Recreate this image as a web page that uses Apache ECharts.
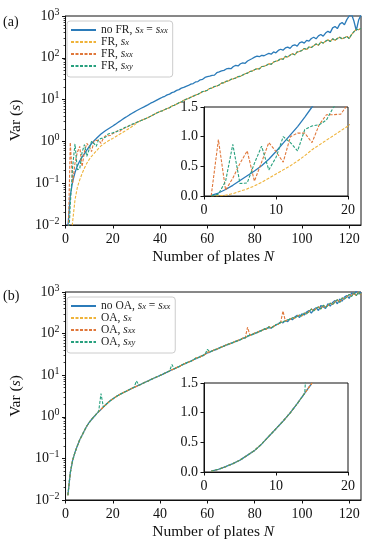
<!DOCTYPE html>
<html>
<head>
<meta charset="utf-8">
<script src="https://cdn.jsdelivr.net/npm/echarts@6/dist/echarts.min.js"></script>
<style>
  html, body { margin: 0; padding: 0; background: #fff; }
  #chart { width: 366px; height: 542px; }
</style>
</head>
<body>
<div id="chart"></div>
<script>
// values, index i is N = i + 1
const noFR = [0.009, 0.05, 0.11, 0.18, 0.26, 0.34, 0.42, 0.51, 0.62, 0.75,
  0.89, 1.03, 1.17, 1.33, 1.5, 1.66, 1.82, 1.98, 2.15, 2.33,
  2.55, 2.8, 3.05, 3.35, 3.65, 3.95, 4.3, 4.65, 5.0, 5.4,
  5.8, 6.2, 6.6, 7.1, 7.6, 8.2, 8.7, 9.3, 10.0, 10.7,
  11.4, 12.0, 13.0, 13.5, 14.7, 15.3, 16.6, 17.3, 18.8, 19.6,
  20.8, 21.8, 23.5, 24.2, 26.5, 27.0, 29.8, 30.5, 34.0, 35.5,
  36.5, 38.0, 38.5, 44.0, 46.0, 48.5, 50.0, 54.0, 56.0, 55.0,
  62, 66, 64, 72, 76, 74, 84, 90, 96, 104,
  110, 106, 115, 112, 120, 128, 122, 138, 132, 150,
  160, 152, 172, 180, 168, 195, 205, 190, 228, 240,
  225, 262, 250, 290, 310, 285, 335, 360, 330, 390,
  430, 400, 520, 560, 500, 640, 700, 620, 820, 1000,
  1100, 760, 450, 800, 1050];

const frSxHead = [0.0005, 0.003, 0.012, 0.04, 0.08, 0.12, 0.17, 0.23, 0.3, 0.37,
  0.44, 0.51, 0.59, 0.68, 0.78, 0.86, 0.94, 1.02, 1.1, 1.18,
  1.28, 1.39, 1.5, 1.62, 1.75, 1.9, 2.05, 2.25, 2.45, 2.7];
const frSxxHead = [0.002, 0.95, 0.1, 0.3, 0.55, 0.76, 0.25, 0.57, 0.9, 0.75,
  0.57, 1.0, 1.06, 1.06, 0.9, 1.2, 1.37, 1.37, 1.38, 1.55,
  1.62, 1.8, 1.75, 1.98, 2.1, 2.2, 2.4, 2.5, 2.65, 2.85];
const frSxyHead = [0.002, 0.03, 0.25, 0.87, 0.21, 0.22, 0.55, 0.84, 0.44, 0.65,
  1.0, 0.9, 0.76, 1.12, 1.18, 1.2, 1.28, 1.5, 1.55, 1.6,
  1.68, 1.75, 1.92, 1.95, 2.15, 2.22, 2.38, 2.55, 2.68, 2.85];
// N = 31..125, the three FR curves lie on top of each other here
const frTail = [3.0, 3.15, 3.35, 3.55, 3.75, 4.0, 4.3, 4.6, 4.9, 5.2,
  5.4, 5.8, 6.1, 6.4, 7.0, 7.3, 7.8, 8.4, 8.8, 9.6,
  10.2, 10.6, 11.4, 12.1, 12.8, 13.5, 14.3, 15.6, 15.9, 16.8,
  18.5, 18.9, 20.5, 21.2, 22.5, 24.8, 25.3, 27.5, 28.0, 30.5,
  31.5, 33.0, 35.5, 36.0, 39.0, 41.5, 43.0, 47.0, 48.5, 52.0,
  55, 54, 62, 63, 66, 72, 70, 79, 83, 86,
  95, 92, 108, 104, 116, 125, 118, 138, 142, 150,
  168, 158, 182, 176, 195, 215, 200, 238, 225, 248,
  270, 245, 285, 262, 290, 310, 285, 300, 325, 290,
  360, 420, 480, 470, 505];

const noOA = [0.013, 0.045, 0.09, 0.14, 0.2, 0.28, 0.36, 0.47, 0.6, 0.73,
  0.86, 1.0, 1.16, 1.33, 1.5, 1.72, 1.95, 2.2, 2.45, 2.7,
  2.95, 3.2, 3.45, 3.7, 3.95, 4.2, 4.5, 4.8, 5.1, 5.4,
  5.75, 6.1, 6.5, 6.9, 7.3, 7.8, 8.3, 8.8, 9.3, 9.9,
  10.5, 11.2, 11.9, 12.6, 13.5, 14.2, 15.2, 16.0, 17.3, 18.5,
  19.2, 21.0, 21.5, 23.5, 24.8, 26.0, 28.5, 29.0, 32.0, 34.5,
  35.5, 38.5, 40.0, 42.0, 45.5, 47.0, 50.5, 53.0, 55.0, 59.0,
  61, 66, 68, 72, 77, 80, 86, 90, 96, 100,
  107, 112, 120, 126, 133, 140, 135, 150, 160, 172,
  190, 182, 205, 195, 230, 215, 250, 275, 245, 300,
  280, 330, 360, 310, 380, 420, 360, 470, 440, 400,
  520, 460, 560, 620, 520, 680, 600, 760, 820, 700,
  950, 880, 1050, 900, 980];
// N = 51..125 of the OA curves (below that they follow noOA)
const oaTail = [19.8, 20.5, 22.0, 23.0, 25.5, 26.5, 27.5, 30.0, 31.5, 35.5,
  36.5, 38.0, 41.0, 42.5, 44.5, 48.0, 49.5, 54.0, 56.0, 58.0,
  62, 64, 69, 71, 78, 79, 88, 92, 94, 103,
  105, 115, 118, 130, 128, 145, 138, 148, 165, 168,
  185, 195, 200, 215, 220, 240, 235, 260, 280, 265,
  310, 300, 340, 390, 350, 400, 440, 390, 480, 430,
  470, 540, 500, 580, 650, 560, 720, 680, 760, 880,
  780, 960, 820, 1000, 850];
// [N, value] where one OA curve jumps off the others
const oaSxxSpikes = [[77, 142], [92, 350]];
const oaSxySpikes = [[15, 3.6], [30, 7.3], [45, 18], [60, 42]];

const xTicks = [0, 20, 40, 60, 80, 100, 120];
const insetXTicks = [0, 10, 20];

const frSx = frSxHead.concat(frTail);
const frSxx = frSxxHead.concat(frTail);
const frSxy = frSxyHead.concat(frTail);
const oaSx = noOA.slice(0, 50).concat(oaTail);
function withSpikes(base, spikes) {
  const out = base.slice();
  spikes.forEach(([n, v]) => { out[n - 1] = v; });
  return out;
}
const oaSxx = withSpikes(oaSx, oaSxxSpikes);
const oaSxy = withSpikes(oaSx, oaSxySpikes);

const FONT = '"Liberation Serif", "DejaVu Serif", serif';
const INK = '#111';
const BLUE = '#2b7bb9';
const YELLOW = '#efb33a';
const ORANGE = '#e0773a';
const GREEN = '#27a07e';

const minorLog = [];
for (let e = -2; e < 3; e++) {
  for (let k = 2; k < 10; k++) minorLog.push(e + Math.log10(k));
}

const labels = {
  noFR: 'no FR, {i|s}{sub|x} = {i|s}{sub|xx}',
  frSx: 'FR, {i|s}{sub|x}',
  frSxx: 'FR, {i|s}{sub|xx}',
  frSxy: 'FR, {i|s}{sub|xy}',
  noOA: 'no OA, {i|s}{sub|x} = {i|s}{sub|xx}',
  oaSx: 'OA, {i|s}{sub|x}',
  oaSxx: 'OA, {i|s}{sub|xx}',
  oaSxy: 'OA, {i|s}{sub|xy}',
};

function line(name, vals, color, dashed, axis, count) {
  return {
    name: name,
    type: 'line',
    xAxisIndex: axis,
    yAxisIndex: axis,
    data: vals.slice(0, count).map((v, i) => [i + 1, v]),
    symbol: 'none',
    color: color,
    lineStyle: { color: color, width: dashed ? 1.1 : 1.3, type: dashed ? [3, 1.5] : 'solid' },
    clip: true,
    animation: false,
  };
}

const tickStyle = { color: INK, width: 1 };
const labelStyle = { color: INK, fontFamily: FONT, fontSize: 14 };

function mainX(grid) {
  return {
    type: 'value', gridIndex: grid, min: 0, max: 125,
    name: 'Number of plates {i|N}', nameLocation: 'middle', nameGap: 24,
    nameTextStyle: { color: INK, fontFamily: FONT, fontSize: 15.5,
      rich: { i: { fontStyle: 'italic', fontFamily: FONT, fontSize: 15.5, color: INK } } },
    axisLine: { show: true, onZero: false, lineStyle: tickStyle },
    axisTick: { show: true, length: 3.5, lineStyle: tickStyle, customValues: xTicks },
    axisLabel: Object.assign({ margin: 7, customValues: xTicks }, labelStyle),
    splitLine: { show: false },
  };
}
function insetX(grid) {
  return {
    type: 'value', gridIndex: grid, min: 0, max: 20, interval: 10,
    axisLine: { show: true, onZero: false, lineStyle: tickStyle },
    axisTick: { show: true, length: 3.5, lineStyle: tickStyle, customValues: insetXTicks },
    axisLabel: Object.assign({ margin: 7, customValues: insetXTicks }, labelStyle),
    splitLine: { show: false },
  };
}
function mainY(grid) {
  return {
    type: 'log', logBase: 10, gridIndex: grid, min: 0.01, max: 1000,
    name: 'Var ({i|s})', nameLocation: 'middle', nameGap: 40,
    nameTextStyle: { color: INK, fontFamily: FONT, fontSize: 15.5,
      rich: { i: { fontStyle: 'italic', fontFamily: FONT, fontSize: 15.5, color: INK } } },
    axisLine: { show: true, onZero: false, lineStyle: tickStyle },
    axisTick: { show: true, length: 3.5, lineStyle: tickStyle },
    axisLabel: {
      margin: 6,
      formatter: (v) => {
        const e = Math.round(Math.log10(v));
        return '{b|10}{sup|' + (e < 0 ? '\u2212' + (-e) : e) + '}';
      },
      rich: {
        b: { fontFamily: FONT, fontSize: 14, lineHeight: 18, color: INK },
        sup: { fontFamily: FONT, fontSize: 10, lineHeight: 10, verticalAlign: 'top', color: INK },
      },
    },
    splitLine: { show: false },
  };
}
function minorY(grid) {
  return {
    type: 'value', gridIndex: grid, min: -2, max: 3, position: 'left',
    axisLine: { show: false, onZero: false },
    axisTick: { show: true, length: 2, lineStyle: { color: INK, width: 0.8 }, customValues: minorLog },
    axisLabel: { show: false },
    splitLine: { show: false },
  };
}
function insetY(grid) {
  return {
    type: 'value', gridIndex: grid, min: 0, max: 1.5, interval: 0.5,
    axisLine: { show: true, onZero: false, lineStyle: tickStyle },
    axisTick: { show: true, length: 3.5, lineStyle: tickStyle },
    axisLabel: Object.assign({ margin: 6, formatter: (v) => v.toFixed(1) }, labelStyle),
    splitLine: { show: false },
  };
}

function legend(top, names) {
  return {
    data: names,
    orient: 'vertical',
    left: 67, top: top,
    padding: [3, 5, 5, 3],
    itemWidth: 25, itemHeight: 8, itemGap: 0,
    itemStyle: { opacity: 0 },
    backgroundColor: 'rgba(255,255,255,0.85)',
    borderColor: '#cccccc', borderWidth: 1, borderRadius: 3,
    formatter: (name) => labels[name],
    textStyle: {
      color: '#222', fontFamily: FONT, fontSize: 11.5, lineHeight: 11,
      rich: {
        i: { fontFamily: FONT, fontSize: 11.5, fontStyle: 'italic', lineHeight: 11, color: '#222' },
        sub: { fontFamily: FONT, fontSize: 8.5, fontStyle: 'italic', lineHeight: 6, verticalAlign: 'bottom', color: '#222' },
      },
    },
    selectedMode: false,
  };
}

const gridBox = { show: true, borderColor: INK, borderWidth: 1, backgroundColor: '#fff' };

const option = {
  backgroundColor: '#fff',
  animation: false,
  title: [
    { text: '(a)', left: 3, top: 15, padding: 0, textStyle: { fontFamily: FONT, fontSize: 14, fontWeight: 'normal', color: INK } },
    { text: '(b)', left: 3, top: 289, padding: 0, textStyle: { fontFamily: FONT, fontSize: 14, fontWeight: 'normal', color: INK } },
  ],
  grid: [
    Object.assign({ left: 62, top: 16, width: 299, height: 209 }, gridBox),
    Object.assign({ left: 204, top: 107, width: 144, height: 89 }, gridBox),
    Object.assign({ left: 62, top: 292, width: 299, height: 208 }, gridBox),
    Object.assign({ left: 204, top: 383, width: 144, height: 89 }, gridBox),
  ],
  xAxis: [mainX(0), insetX(1), mainX(2), insetX(3)],
  yAxis: [mainY(0), insetY(1), mainY(2), insetY(3), minorY(0), minorY(2)],
  legend: [
    legend(21, ['noFR', 'frSx', 'frSxx', 'frSxy']),
    legend(297, ['noOA', 'oaSx', 'oaSxx', 'oaSxy']),
  ],
  series: [
    line('noFR', noFR, BLUE, false, 0, 125),
    line('frSx', frSx, YELLOW, true, 0, 125),
    line('frSxx', frSxx, ORANGE, true, 0, 125),
    line('frSxy', frSxy, GREEN, true, 0, 125),
    line('noFR', noFR, BLUE, false, 1, 22),
    line('frSx', frSx, YELLOW, true, 1, 22),
    line('frSxx', frSxx, ORANGE, true, 1, 22),
    line('frSxy', frSxy, GREEN, true, 1, 22),
    line('noOA', noOA, BLUE, false, 2, 125),
    line('oaSx', oaSx, YELLOW, true, 2, 125),
    line('oaSxx', oaSxx, ORANGE, true, 2, 125),
    line('oaSxy', oaSxy, GREEN, true, 2, 125),
    line('noOA', noOA, BLUE, false, 3, 22),
    line('oaSx', oaSx, YELLOW, true, 3, 22),
    line('oaSxx', oaSxx, ORANGE, true, 3, 22),
    line('oaSxy', oaSxy, GREEN, true, 3, 22),
  ],
};

const chart = echarts.init(document.getElementById('chart'));
chart.setOption(option);
</script>
</body>
</html>
